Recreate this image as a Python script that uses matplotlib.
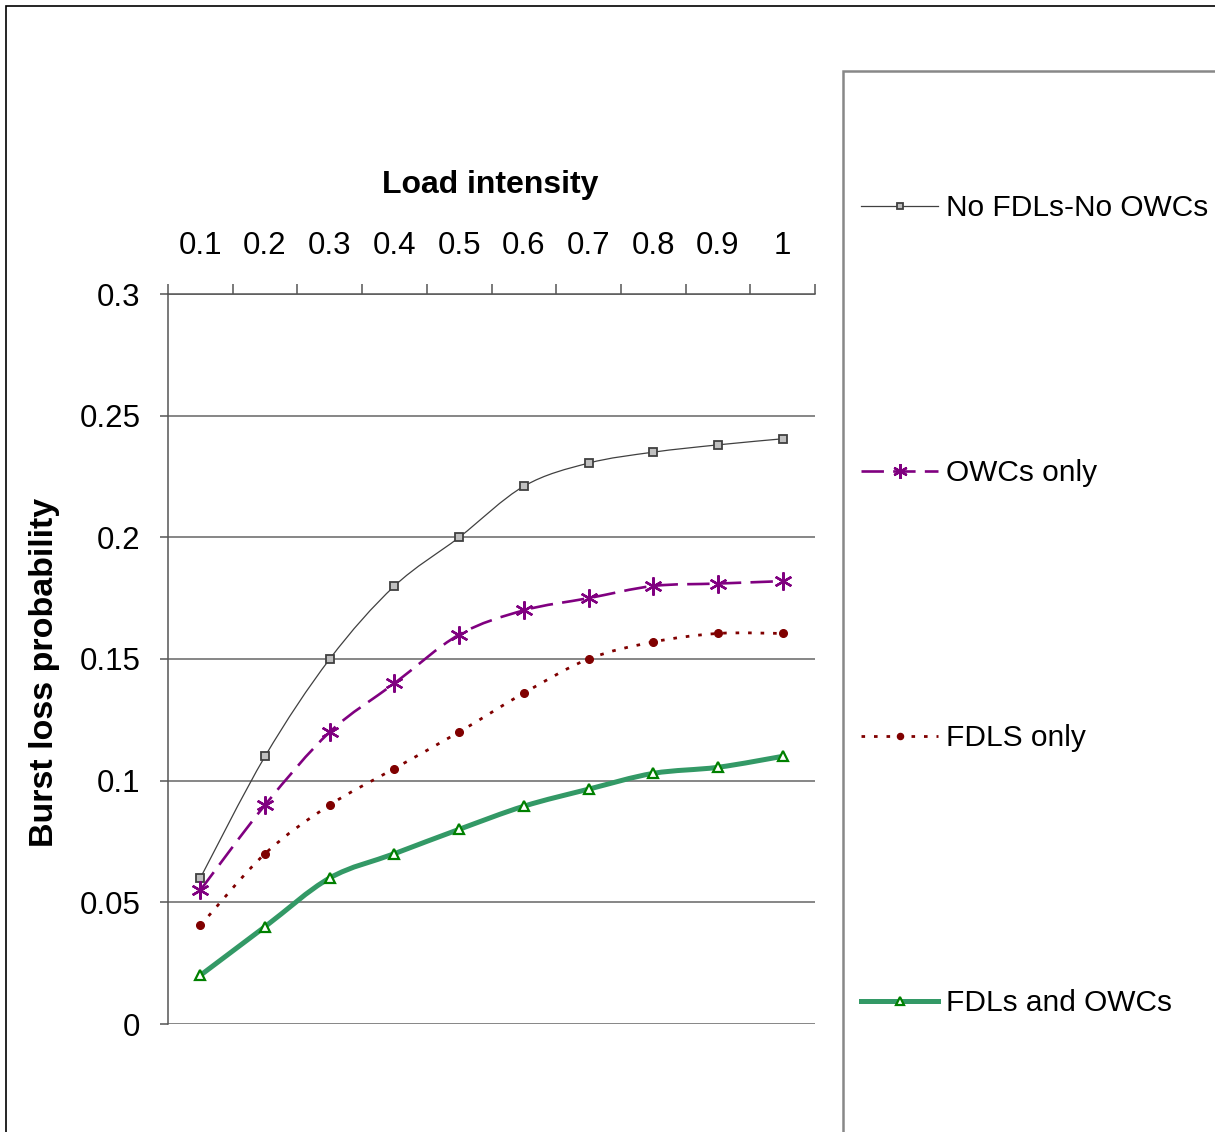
import matplotlib
matplotlib.use("Agg")
import matplotlib.pyplot as plt
from matplotlib.path import Path
from matplotlib.patches import PathPatch, Rectangle
from matplotlib.lines import Line2D
import numpy as np

plt.rcParams['font.family'] = ['Liberation Sans', 'DejaVu Sans']

# ---- data ----
load = [0.1, 0.2, 0.3, 0.4, 0.5, 0.6, 0.7, 0.8, 0.9, 1.0]
load_labels = ["0.1", "0.2", "0.3", "0.4", "0.5", "0.6", "0.7", "0.8", "0.9", "1"]
no_fdl_no_owc = [0.060, 0.110, 0.150, 0.180, 0.200, 0.221, 0.2305, 0.235, 0.238, 0.2405]
owc_only = [0.055, 0.090, 0.120, 0.140, 0.160, 0.170, 0.175, 0.180, 0.181, 0.182]
fdl_only = [0.0405, 0.070, 0.090, 0.105, 0.120, 0.136, 0.150, 0.157, 0.1605, 0.1605]
fdl_and_owc = [0.020, 0.040, 0.060, 0.070, 0.080, 0.0895, 0.0965, 0.103, 0.1055, 0.110]
series_labels = ["No FDLs-No OWCs", "OWCs only", "FDLS only", "FDLs and OWCs"]
y_ticks = [0, 0.05, 0.1, 0.15, 0.2, 0.25, 0.3]
y_tick_labels = ["0", "0.05", "0.1", "0.15", "0.2", "0.25", "0.3"]

W, H = 1215, 1132
fig = plt.figure(figsize=(W / 100, H / 100), dpi=100)
ax = fig.add_axes([168 / W, 1 - 1024 / H, (815 - 168) / W, (1024 - 294) / H])


def smooth_path(xs, ys):
    pts = list(zip(xs, ys))
    n = len(pts)
    verts = [pts[0]]
    codes = [Path.MOVETO]
    for i in range(n - 1):
        p0 = pts[i - 1] if i > 0 else pts[i]
        p1 = pts[i]
        p2 = pts[i + 1]
        p3 = pts[i + 2] if i + 2 < n else pts[i + 1]
        c1 = (p1[0] + (p2[0] - p0[0]) / 6, p1[1] + (p2[1] - p0[1]) / 6)
        c2 = (p2[0] - (p3[0] - p1[0]) / 6, p2[1] - (p3[1] - p1[1]) / 6)
        verts += [c1, c2, p2]
        codes += [Path.CURVE4] * 3
    return Path(verts, codes)


styles = [
    dict(color="#404040", lw=0.9, ls="-", marker="s", ms=5.5, mfc="#c0c0c0", mec="#404040", mew=1.3),
    dict(color="#800080", lw=1.9, ls=(0, (8.5, 3.5)), marker=(6, 2, 0), ms=13, mfc="#800080", mec="#800080", mew=1.7),
    dict(color="#800000", lw=2.0, ls=(0, (1.3, 3.2)), marker="o", ms=5.5, mfc="#800000", mec="#800000", mew=1),
    dict(color="#339966", lw=3.6, ls="-", marker="^", ms=7, mfc="white", mec="#008000", mew=1.6),
]
all_series = [no_fdl_no_owc, owc_only, fdl_only, fdl_and_owc]

handles = []
for ys, st, lab in zip(all_series, styles, series_labels):
    patch = PathPatch(smooth_path(load, ys), fill=False, edgecolor=st["color"],
                      lw=st["lw"], linestyle=st["ls"], zorder=3, capstyle="butt")
    ax.add_patch(patch)
    ax.plot(load, ys, linestyle="none", marker=st["marker"], ms=st["ms"],
            mfc=st["mfc"], mec=st["mec"], mew=st["mew"], zorder=4)
    handles.append(Line2D([], [], color=st["color"], lw=st["lw"], linestyle=st["ls"],
                          marker=st["marker"], ms=st["ms"] * 0.8, mfc=st["mfc"],
                          mec=st["mec"], mew=st["mew"]))

# axes styling
ax.set_xlim(0.05, 1.05)
ax.set_ylim(0, 0.3)
ax.xaxis.tick_top()
ax.set_xticks(np.arange(0.05, 1.051, 0.1))
ax.set_xticklabels([])
ax.set_xticks(load, minor=True)
ax.set_xticklabels(load_labels, minor=True)
ax.tick_params(axis="x", which="major", direction="out", length=7.2, width=1.1, color="#555555", top=True, bottom=False)
ax.tick_params(axis="x", which="minor", length=0, pad=23.5, labelsize=22.5, labeltop=True, labelbottom=False, top=True, bottom=False)
ax.set_yticks(y_ticks)
ax.set_yticklabels(y_tick_labels)
ax.tick_params(axis="y", direction="out", length=5.8, width=1.1, color="#555555", pad=14, labelsize=22.5)
ax.grid(axis="y", color="#666666", lw=1.1)
ax.set_axisbelow(True)
for s in ["right", "bottom"]:
    ax.spines[s].set_visible(False)
for s in ["left", "top"]:
    ax.spines[s].set_color("#555555")
    ax.spines[s].set_linewidth(1.1)

fig.text(490 / W, 1 - 185 / H, "Load intensity", ha="center", va="center", fontsize=23, fontweight="bold")
fig.text(45 / W, 1 - 672 / H, "Burst loss probability", ha="center", va="center", rotation=90,
         fontsize=24.5, fontweight="bold")

# frames
fig.patches.append(Rectangle((6 / W, -0.5), 2, 1.5 - 6 / H, transform=fig.transFigure,
                             fill=False, edgecolor="black", lw=1.2))
fig.patches.append(Rectangle((843 / W, -0.5), 2, 1.5 - 71 / H, transform=fig.transFigure,
                             fill=False, edgecolor="#888888", lw=1.8))

fig.legend(handles, series_labels, loc="upper left", bbox_to_anchor=(861 / W, 1 - 194 / H),
           frameon=False, fontsize=21.5, handlelength=2.58, handletextpad=0.27,
           labelspacing=7.94, borderpad=0, borderaxespad=0)

fig.savefig("out.png", dpi=100)
